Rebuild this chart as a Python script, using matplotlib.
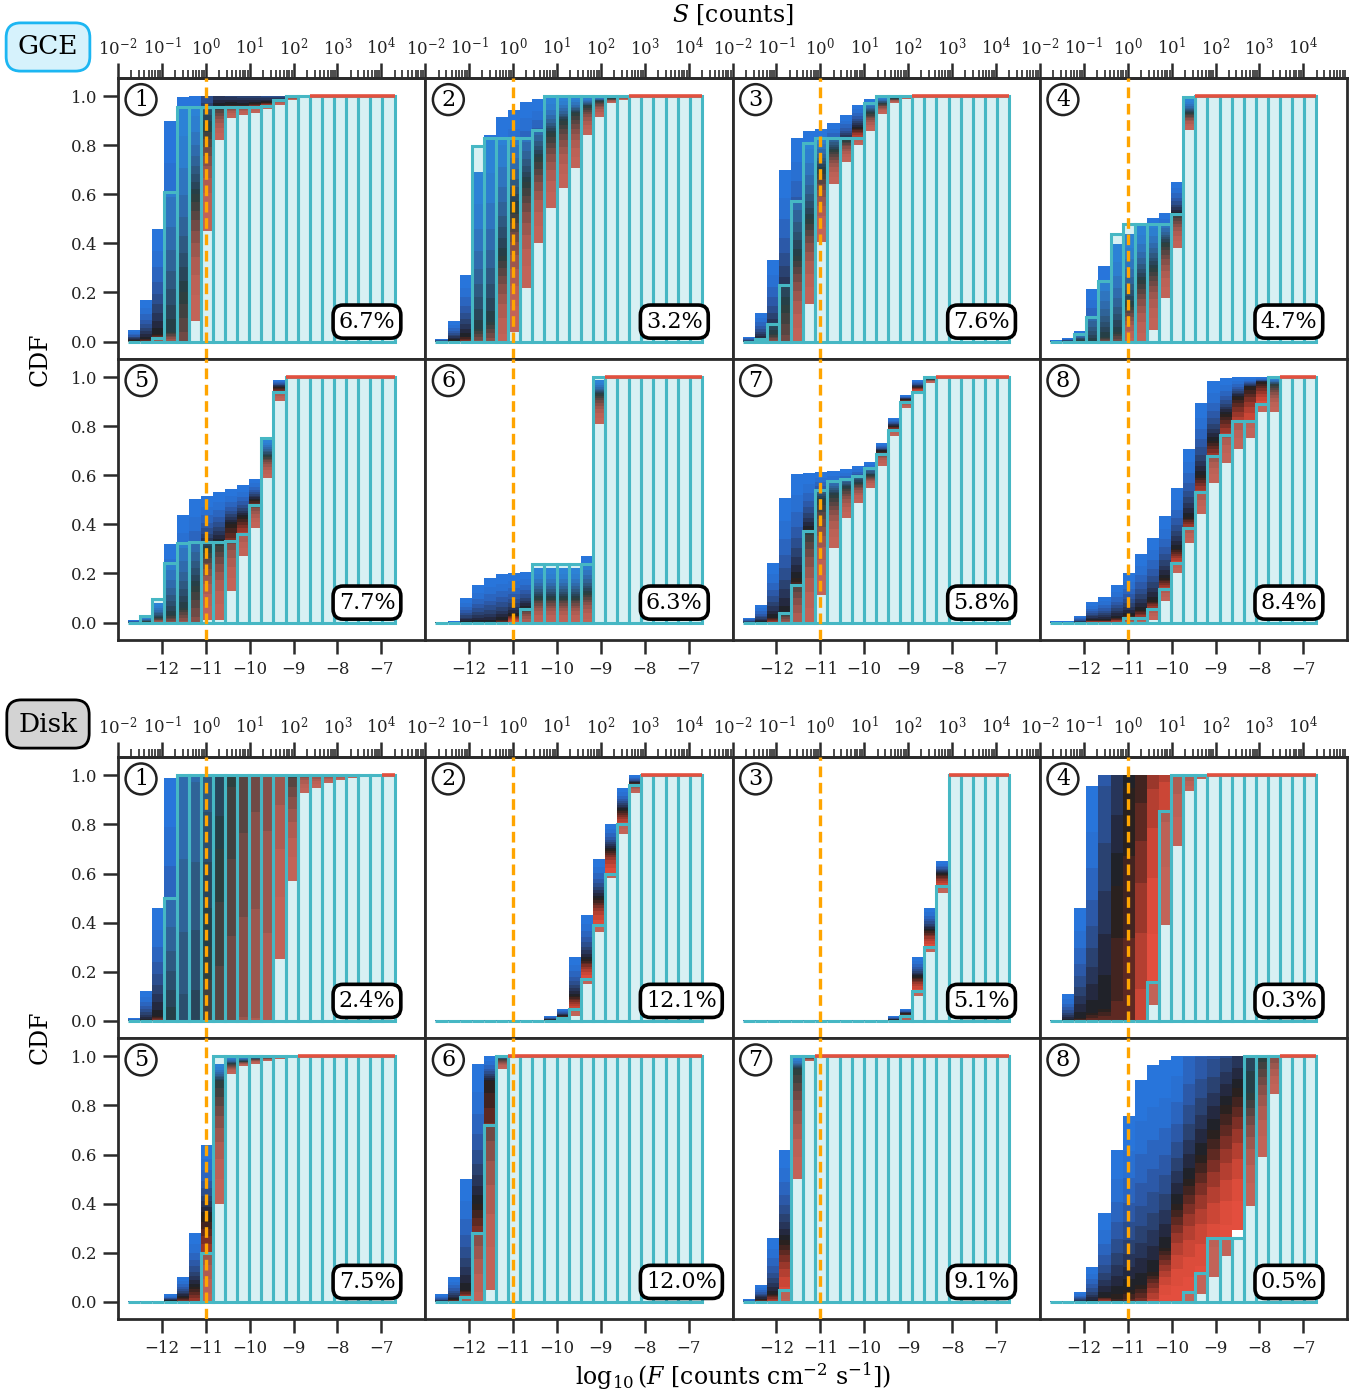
import numpy as np
import matplotlib
matplotlib.use("Agg")
import matplotlib.pyplot as plt
from matplotlib.colors import LinearSegmentedColormap
from statistics import NormalDist

plt.rcParams['font.family'] = ['DejaVu Serif']
plt.rcParams['mathtext.fontset'] = 'dejavuserif'

# ---------------- data (22 flux bins in log10 F) ----------------
bin_lo_edge, bin_hi_edge, n_bins = -12.77, -6.70, 22
percent_gce = ["6.7%", "3.2%", "7.6%", "4.7%", "7.7%", "6.3%", "5.8%", "8.4%"]
percent_disk = ["2.4%", "12.1%", "5.1%", "0.3%", "7.5%", "12.0%", "9.1%", "0.5%"]

# Each panel: true CDF, and the lowest / median / highest predicted quantile
# (quantile values outside [0, 1] are clipped by the axes; they set which
#  colours of the quantile gradient are visible in a saturated bin)
gce1_truth = [0, 0, 0.015, 0.61, 0.956, 0.956, 0.956, 0.956, 0.956, 0.956, 0.956, 0.96, 0.984, 1, 1, 1, 1, 1, 1, 1, 1, 1]
gce1_lo = [-0.01, -0.02, -0.03, -0.04, -0.6, 0.085, 0.45, 0.82, 0.91, 0.922, 0.933, 0.946, 0.965, 0.985, 0.995, 1, 1, 1, 1, 1, 1, 1]
gce1_med = [0.005, 0.01, 0.03, 0.04, 0.2, 0.6, 0.88, 0.96, 0.965, 0.965, 0.97, 0.975, 0.985, 0.995, 0.998, 1, 1, 1, 1, 1, 1, 1]
gce1_hi = [0.045, 0.17, 0.457, 0.90, 0.997, 1.0, 1.2, 1.15, 1.12, 1.1, 1.08, 1.05, 1.02, 1, 1, 1, 1, 1, 1, 1, 1, 1]

gce2_truth = [0, 0, 0, 0.795, 0.828, 0.828, 0.828, 0.828, 0.863, 1, 1, 1, 1, 1, 1, 1, 1, 1, 1, 1, 1, 1]
gce2_lo = [-0.01, -0.02, -0.04, -0.1, -0.15, -0.05, 0.04, 0.22, 0.40, 0.546, 0.625, 0.709, 0.84, 0.913, 0.971, 0.985, 1, 1, 1, 1, 1, 1]
gce2_med = [0, 0.005, 0.02, 0.05, 0.08, 0.35, 0.55, 0.65, 0.75, 0.85, 0.9, 0.93, 0.96, 0.98, 0.99, 0.995, 1, 1, 1, 1, 1, 1]
gce2_hi = [0.012, 0.083, 0.27, 0.69, 0.84, 0.913, 0.944, 0.978, 0.989, 0.996, 1, 1, 1, 1, 1, 1, 1, 1, 1, 1, 1, 1]

gce3_truth = [0, 0.01, 0.073, 0.23, 0.573, 0.808, 0.829, 0.829, 0.829, 0.829, 0.971, 1, 1, 1, 1, 1, 1, 1, 1, 1, 1, 1]
gce3_lo = [-0.01, -0.02, -0.05, -0.45, -0.02, 0.151, 0.407, 0.641, 0.733, 0.80, 0.858, 0.927, 0.971, 0.989, 1, 1, 1, 1, 1, 1, 1, 1]
gce3_med = [0, 0.01, 0.03, 0.15, 0.35, 0.5, 0.7, 0.78, 0.82, 0.87, 0.93, 0.97, 0.99, 0.995, 1, 1, 1, 1, 1, 1, 1, 1]
gce3_hi = [0.02, 0.117, 0.332, 0.697, 0.829, 0.856, 0.867, 0.89, 0.921, 0.965, 0.989, 1, 1, 1, 1, 1, 1, 1, 1, 1, 1, 1]

gce4_truth = [0, 0, 0.03, 0.098, 0.246, 0.44, 0.479, 0.479, 0.479, 0.479, 0.518, 0.995, 1, 1, 1, 1, 1, 1, 1, 1, 1, 1]
gce4_lo = [-0.01, -0.01, -0.01, -0.05, -0.05, -0.1, -0.02, -0.02, 0.046, 0.176, 0.38, 0.863, 1, 1, 1, 1, 1, 1, 1, 1, 1, 1]
gce4_med = [0, 0, 0.005, 0.0, 0.02, 0.04, 0.15, 0.25, 0.3, 0.4, 0.52, 0.93, 1, 1, 1, 1, 1, 1, 1, 1, 1, 1]
gce4_hi = [0.005, 0.015, 0.044, 0.212, 0.309, 0.397, 0.44, 0.479, 0.505, 0.525, 0.652, 0.99, 1, 1, 1, 1, 1, 1, 1, 1, 1, 1]

gce5_truth = [0, 0.025, 0.094, 0.244, 0.325, 0.328, 0.328, 0.328, 0.332, 0.359, 0.479, 0.751, 0.94, 1, 1, 1, 1, 1, 1, 1, 1, 1]
gce5_lo = [-0.01, -0.01, -0.02, -0.05, -0.08, -0.3, 0.01, 0.012, 0.128, 0.271, 0.386, 0.588, 0.903, 1, 1, 1, 1, 1, 1, 1, 1, 1]
gce5_med = [0, 0.005, 0.02, 0.03, 0.06, 0.15, 0.3, 0.33, 0.4, 0.43, 0.5, 0.68, 0.96, 1, 1, 1, 1, 1, 1, 1, 1, 1]
gce5_hi = [0.01, 0.02, 0.08, 0.318, 0.44, 0.502, 0.516, 0.532, 0.543, 0.559, 0.584, 0.747, 0.989, 1, 1, 1, 1, 1, 1, 1, 1, 1]

gce6_truth = [0, 0, 0, 0, 0, 0, 0, 0.056, 0.237, 0.237, 0.237, 0.237, 0.237, 1, 1, 1, 1, 1, 1, 1, 1, 1]
gce6_lo = [-0.01, -0.01, -0.02, -0.02, -0.02, -0.02, -0.01, -0.03, -0.01, -0.01, -0.01, -0.01, -0.01, 0.81, 1, 1, 1, 1, 1, 1, 1, 1]
gce6_med = [0, 0, 0, 0, 0, 0.01, 0.03, 0.06, 0.1, 0.1, 0.1, 0.1, 0.12, 0.93, 1, 1, 1, 1, 1, 1, 1, 1]
gce6_hi = [0.003, 0.005, 0.10, 0.151, 0.18, 0.196, 0.203, 0.205, 0.223, 0.223, 0.223, 0.223, 0.27, 0.99, 1, 1, 1, 1, 1, 1, 1, 1]

gce7_truth = [0, 0, 0, 0.037, 0.151, 0.373, 0.539, 0.577, 0.586, 0.595, 0.629, 0.688, 0.785, 0.9, 0.94, 1, 1, 1, 1, 1, 1, 1]
gce7_lo = [-0.01, -0.02, -0.03, -0.05, -0.1, -0.02, 0.114, 0.305, 0.427, 0.488, 0.55, 0.638, 0.76, 0.876, 0.937, 0.978, 1, 1, 1, 1, 1, 1]
gce7_med = [0, 0, 0.02, 0.04, 0.18, 0.38, 0.5, 0.52, 0.55, 0.57, 0.6, 0.7, 0.8, 0.91, 0.96, 0.99, 1, 1, 1, 1, 1, 1]
gce7_hi = [0.02, 0.073, 0.244, 0.509, 0.604, 0.611, 0.614, 0.618, 0.624, 0.638, 0.654, 0.731, 0.835, 0.927, 0.989, 1, 1, 1, 1, 1, 1, 1]

gce8_truth = [0, 0, 0, 0, 0, 0, 0.02, 0.02, 0.056, 0.137, 0.241, 0.386, 0.532, 0.679, 0.763, 0.822, 0.822, 0.89, 1, 1, 1, 1]
gce8_lo = [-0.01, -0.01, -0.01, -0.01, -0.01, -0.02, -0.02, -0.02, 0.01, 0.087, 0.203, 0.325, 0.444, 0.57, 0.649, 0.709, 0.75, 0.856, 0.856, 1, 1, 1]
gce8_med = [0, 0, 0, 0.01, 0.01, 0.02, 0.03, 0.05, 0.09, 0.18, 0.3, 0.43, 0.6, 0.74, 0.85, 0.92, 0.96, 0.98, 0.97, 1, 1, 1]
gce8_hi = [0.005, 0.005, 0.026, 0.083, 0.105, 0.151, 0.2, 0.278, 0.346, 0.434, 0.55, 0.709, 0.894, 0.985, 0.996, 0.999, 1, 1, 1, 1, 1, 1]

disk1_truth = [0, 0, 0, 0.5, 1, 1, 1, 1, 1, 1, 1, 1, 1, 1, 1, 1, 1, 1, 1, 1, 1, 1]
disk1_lo = [-0.01, -0.02, -0.05, -0.1, -1, -1, -2, -3, -3, -2.5, -2, -1.5, 0.25, 0.57, 0.93, 0.95, 0.97, 0.98, 0.99, 0.995, 0.997, 1]
disk1_med = [0, 0, 0.02, 0.0, -0.5, -0.3, 0.3, 0.7, 1.2, 1.6, 2.0, 2.2, 1.5, 1.05, 1.03, 1.02, 1.01, 1.005, 1.003, 1.002, 1.001, 1]
disk1_hi = [0.01, 0.12, 0.46, 0.99, 2.5, 3, 3, 3, 3, 3, 3, 3, 3, 2, 1.2, 1.1, 1.05, 1.03, 1.02, 1.01, 1.005, 1]

disk2_truth = [0, 0, 0, 0, 0, 0, 0, 0, 0, 0, 0.01, 0.05, 0.17, 0.39, 0.6, 0.8, 0.96, 1, 1, 1, 1, 1]
disk2_lo = [0, 0, 0, 0, 0, 0, 0, 0, 0, -0.01, -0.01, 0.02, 0.15, 0.36, 0.58, 0.76, 0.93, 1, 1, 1, 1, 1]
disk2_med = [0, 0, 0, 0, 0, 0, 0, 0, 0, 0.005, 0.02, 0.1, 0.25, 0.5, 0.7, 0.86, 0.97, 1, 1, 1, 1, 1]
disk2_hi = [0.003, 0.003, 0.003, 0.003, 0.003, 0.003, 0.003, 0.003, 0.003, 0.02, 0.05, 0.26, 0.43, 0.66, 0.8, 0.95, 1, 1, 1, 1, 1, 1]

disk3_truth = [0, 0, 0, 0, 0, 0, 0, 0, 0, 0, 0, 0, 0, 0.02, 0.12, 0.3, 0.55, 1, 1, 1, 1, 1]
disk3_lo = [0, 0, 0, 0, 0, 0, 0, 0, 0, 0, 0, 0, -0.01, -0.01, 0.1, 0.28, 0.52, 1, 1, 1, 1, 1]
disk3_med = [0, 0, 0, 0, 0, 0, 0, 0, 0, 0, 0, 0, 0.005, 0.03, 0.18, 0.37, 0.6, 1, 1, 1, 1, 1]
disk3_hi = [0.003, 0.003, 0.003, 0.003, 0.003, 0.003, 0.003, 0.003, 0.003, 0.003, 0.003, 0.003, 0.02, 0.05, 0.26, 0.46, 0.65, 1, 1, 1, 1, 1]

disk4_truth = [0, 0, 0, 0, 0, 0, 0, 0, 0.159, 0.856, 1, 1, 1, 1, 1, 1, 1, 1, 1, 1, 1, 1]
disk4_lo = [-0.01, -0.02, -0.05, -0.1, -0.2, -3.1, -3.8, -0.9, 0.064, 0.39, 0.711, 0.935, 0.985, 1, 1, 1, 1, 1, 1, 1, 1, 1]
disk4_med = [0, 0, 0.01, 0.03, 0.05, 0.55, 0.95, 1.15, 1.5, 1.55, 1.3, 1.05, 1.01, 1, 1, 1, 1, 1, 1, 1, 1, 1]
disk4_hi = [0.005, 0.11, 0.459, 0.958, 2.4, 2.8, 3, 3, 3, 3, 2, 1.5, 1.2, 1, 1, 1, 1, 1, 1, 1, 1, 1]

disk5_truth = [0, 0, 0, 0, 0, 0, 0.2, 1, 1, 1, 1, 1, 1, 1, 1, 1, 1, 1, 1, 1, 1, 1]
disk5_lo = [-0.01, -0.01, -0.01, -0.02, -0.05, -0.1, -0.05, 0.4, 0.93, 0.96, 0.97, 0.98, 0.99, 0.995, 1, 1, 1, 1, 1, 1, 1, 1]
disk5_med = [0, 0, 0, 0.005, 0.02, 0.06, 0.35, 0.9, 0.97, 0.98, 0.99, 0.995, 0.997, 0.998, 1, 1, 1, 1, 1, 1, 1, 1]
disk5_hi = [0.003, 0.003, 0.003, 0.03, 0.1, 0.28, 0.64, 0.97, 1, 1, 1, 1, 1, 1, 1, 1, 1, 1, 1, 1, 1, 1]

disk6_truth = [0, 0, 0.02, 0.28, 0.72, 1, 1, 1, 1, 1, 1, 1, 1, 1, 1, 1, 1, 1, 1, 1, 1, 1]
disk6_lo = [-0.01, -0.02, -0.03, -0.05, 0.05, 0.95, 1, 1, 1, 1, 1, 1, 1, 1, 1, 1, 1, 1, 1, 1, 1, 1]
disk6_med = [0, 0.01, 0.05, 0.4, 0.9, 0.99, 1, 1, 1, 1, 1, 1, 1, 1, 1, 1, 1, 1, 1, 1, 1, 1]
disk6_hi = [0.03, 0.1, 0.5, 0.97, 1, 1, 1, 1, 1, 1, 1, 1, 1, 1, 1, 1, 1, 1, 1, 1, 1, 1]

disk7_truth = [0, 0, 0, 0.05, 1, 1, 1, 1, 1, 1, 1, 1, 1, 1, 1, 1, 1, 1, 1, 1, 1, 1]
disk7_lo = [-0.01, -0.02, -0.03, -0.05, 0.5, 0.98, 1, 1, 1, 1, 1, 1, 1, 1, 1, 1, 1, 1, 1, 1, 1, 1]
disk7_med = [0, 0.01, 0.03, 0.25, 0.95, 0.995, 1, 1, 1, 1, 1, 1, 1, 1, 1, 1, 1, 1, 1, 1, 1, 1]
disk7_hi = [0.01, 0.07, 0.26, 0.62, 1, 1, 1, 1, 1, 1, 1, 1, 1, 1, 1, 1, 1, 1, 1, 1, 1, 1]

disk8_truth = [0, 0, 0, 0, 0, 0, 0, 0, 0, 0, 0, 0.038, 0.117, 0.26, 0.26, 0.26, 1, 1, 1, 1, 1, 1]
disk8_lo = [-0.01, -0.01, -0.01, -0.02, -0.03, -0.27, -0.25, -0.2, -0.1, -0.02, -0.02, 0.0, 0.03, 0.10, 0.188, 0.293, 0.392, 0.592, 0.845, 1, 1, 1]
disk8_med = [0, 0, 0, 0, 0.02, 0.03, 0.05, 0.07, 0.12, 0.22, 0.4, 0.5, 0.6, 0.7, 0.8, 0.87, 0.85, 1.0, 1.054, 1, 1, 1]
disk8_hi = [0.003, 0.005, 0.04, 0.143, 0.36, 0.62, 0.759, 0.905, 0.963, 0.984, 1.05, 1.28, 1.4, 1.45, 1.47, 1.52, 2.4, 2, 2, 1, 1, 1]

gce_panels = [
    (gce1_truth, gce1_lo, gce1_med, gce1_hi), (gce2_truth, gce2_lo, gce2_med, gce2_hi),
    (gce3_truth, gce3_lo, gce3_med, gce3_hi), (gce4_truth, gce4_lo, gce4_med, gce4_hi),
    (gce5_truth, gce5_lo, gce5_med, gce5_hi), (gce6_truth, gce6_lo, gce6_med, gce6_hi),
    (gce7_truth, gce7_lo, gce7_med, gce7_hi), (gce8_truth, gce8_lo, gce8_med, gce8_hi)]
disk_panels = [
    (disk1_truth, disk1_lo, disk1_med, disk1_hi), (disk2_truth, disk2_lo, disk2_med, disk2_hi),
    (disk3_truth, disk3_lo, disk3_med, disk3_hi), (disk4_truth, disk4_lo, disk4_med, disk4_hi),
    (disk5_truth, disk5_lo, disk5_med, disk5_hi), (disk6_truth, disk6_lo, disk6_med, disk6_hi),
    (disk7_truth, disk7_lo, disk7_med, disk7_hi), (disk8_truth, disk8_lo, disk8_med, disk8_hi)]

# ---------------- style ----------------
edges = np.linspace(bin_lo_edge, bin_hi_edge, n_bins + 1)
centers = 0.5 * (edges[:-1] + edges[1:])
bw = edges[1] - edges[0]

cmap = LinearSegmentedColormap.from_list("qcm", [
    (0.0, '#e8503f'), (0.08, '#c94535'), (0.22, '#8e3329'), (0.37, '#4e2620'),
    (0.5, '#1f1f1f'), (0.62, '#252c48'), (0.75, '#2a4476'), (0.9, '#2c5eb4'),
    (1.0, '#2878e0')])

# quantile levels used to render the colour gradient between lo / med / hi
p_levels = [0.005, 0.02, 0.05, 0.1, 0.16, 0.23, 0.3, 0.37, 0.44, 0.5,
            0.56, 0.63, 0.7, 0.77, 0.84, 0.9, 0.95, 0.98, 0.995]
nd = NormalDist()
z = np.array([nd.inv_cdf(p) for p in p_levels])
z = z / z[-1]

TEAL = '#46b7c4'
FILL = (0.25, 0.72, 0.77, 0.2)
SPINE = '#2b2b2b'

W, H = 1370, 1397
fig = plt.figure(figsize=(W / 100, H / 100), dpi=100)

col_left = [118, 425.3, 732.6, 1039.9]
col_w = 307.3
row_h = 281
group_top = {'GCE': 77.7, 'Disk': 757.0}


def add_ax(l, t, w, h):
    return fig.add_axes([l / W, 1 - (t + h) / H, w / W, h / H])


def draw_panel(ax, data):
    truth, lo, med, hi = [np.asarray(a, float) for a in data]
    Q = []
    for zz in z:
        if zz < 0:
            Q.append(med + zz * (med - lo))
        else:
            Q.append(med + zz * (hi - med))
    Q = np.clip(np.array(Q), 0, 1)
    nb = len(p_levels) - 1
    for j in range(nb):
        pm = 0.5 * (p_levels[j] + p_levels[j + 1])
        ax.bar(centers, Q[j + 1] - Q[j], bottom=Q[j], width=bw,
               color=cmap(pm), linewidth=0, zorder=2)
    ax.bar(centers, truth, width=bw, color=FILL, edgecolor=TEAL,
           linewidth=2.2, zorder=3)
    for c, l in zip(centers, lo):
        if l >= 0.999:
            ax.hlines(1.0, c - bw / 2, c + bw / 2, color='#e2503f', lw=2.6, zorder=4)
    ax.axvline(-11, color='#FFA500', lw=2.4, ls=(0, (3.2, 1.7)), zorder=5)


major_top = [-13, -12, -11, -10, -9, -8, -7]
major_top_labels = [r'$10^{-2}$', r'$10^{-1}$', r'$10^{0}$', r'$10^{1}$',
                    r'$10^{2}$', r'$10^{3}$', r'$10^{4}$']
minor_top = [k + np.log10(m) - 11 for k in range(-2, 5) for m in range(2, 10)]

for gname, panels, pcts in [('GCE', gce_panels, percent_gce), ('Disk', disk_panels, percent_disk)]:
    for idx in range(8):
        r, c = divmod(idx, 4)
        top = group_top[gname] + r * row_h
        ax = add_ax(col_left[c], top, col_w, row_h)
        draw_panel(ax, panels[idx])
        ax.set_xlim(-13, -6)
        ax.set_ylim(-0.07, 1.075)
        for s in ax.spines.values():
            s.set_color(SPINE)
            s.set_linewidth(2)
        ax.tick_params(colors=SPINE, labelcolor='#222222', width=1.8, length=9,
                       labelsize=12, direction='out')
        if c == 0:
            ax.set_yticks([0, 0.2, 0.4, 0.6, 0.8, 1.0])
            ax.set_yticklabels(['0.0', '0.2', '0.4', '0.6', '0.8', '1.0'])
            ax.tick_params(axis='y', length=11, pad=4)
        else:
            ax.set_yticks([])
        if r == 1:
            ax.set_xticks([-12, -11, -10, -9, -8, -7])
            ax.set_xticklabels(['\u221212', '\u221211', '\u221210', '\u22129', '\u22128', '\u22127'])
            ax.tick_params(axis='x', length=10, pad=5)
        else:
            ax.set_xticks([])
            sec = ax.secondary_xaxis('top')
            sec.set_xticks(major_top)
            sec.set_xticklabels(major_top_labels)
            sec.set_xticks([m for m in minor_top if m <= -6.0], minor=True)
            sec.tick_params(which='major', length=11, width=1.8, labelsize=12,
                            colors=SPINE, labelcolor='#222222', pad=3)
            sec.tick_params(which='minor', length=5.5, width=1.2, colors=SPINE)
            sec.spines['top'].set_color(SPINE)
            sec.spines['top'].set_linewidth(2)
        ax.text(0.075, 0.922, str(idx + 1), transform=ax.transAxes, ha='center',
                va='center', fontsize=16, zorder=10,
                bbox=dict(boxstyle='circle,pad=0.2', fc='white', ec='#222222', lw=1.8))
        ax.text(0.718, 0.132, pcts[idx], transform=ax.transAxes, ha='left',
                va='center', fontsize=16, zorder=10,
                bbox=dict(boxstyle='round,pad=0.25,rounding_size=0.45', fc='white',
                          ec='black', lw=2.6))

fig.text(733 / W, 1 - 15 / H, r'$S$ [counts]', ha='center', va='center', fontsize=17)
fig.text(733 / W, 1 - 1376 / H,
         r'$\log_{10}(F$ [counts cm$^{-2}$ s$^{-1}$]$)$',
         ha='center', va='center', fontsize=17)
fig.text(40 / W, 1 - 359 / H, 'CDF', rotation=90, ha='center', va='center', fontsize=17)
fig.text(40 / W, 1 - 1037 / H, 'CDF', rotation=90, ha='center', va='center', fontsize=17)
fig.text(48 / W, 1 - 47 / H, 'GCE', ha='center', va='center', fontsize=19,
         bbox=dict(boxstyle='round,pad=0.44,rounding_size=0.55', fc='#d6f2fc',
                   ec='#1cb6f2', lw=2))
fig.text(48 / W, 1 - 724 / H, 'Disk', ha='center', va='center', fontsize=19,
         bbox=dict(boxstyle='round,pad=0.44,rounding_size=0.55', fc='#d3d3d3',
                   ec='black', lw=2))

fig.savefig('out.png', dpi=100)
